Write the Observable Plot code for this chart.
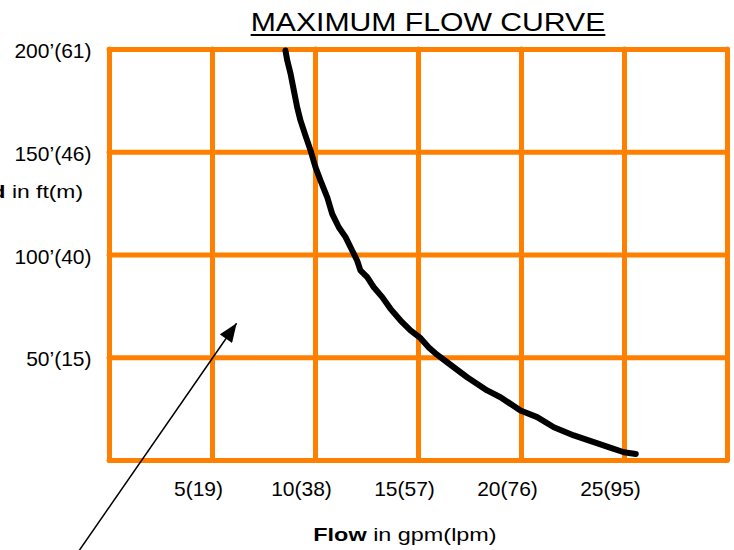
<!DOCTYPE html>
<html>
<head>
<meta charset="utf-8">
<script src="https://cdn.jsdelivr.net/npm/d3@7"></script>
<script src="https://cdn.jsdelivr.net/npm/@observablehq/plot@0.6"></script>
<style>
  html, body { margin: 0; padding: 0; background: #fff; }
  #wrap { position: relative; width: 734px; height: 550px; overflow: hidden;
          font-family: "Liberation Sans", Arial, sans-serif; color: #000; }
  #chart { position: absolute; left: 0; top: 0; }
  .lbl { position: absolute; white-space: nowrap; line-height: 1; }
  #title { left: 427.5px; top: 9px; font-size: 26px;
           transform: translateX(-50%) scaleX(1.16);
           text-decoration: underline; text-decoration-thickness: 2px; text-underline-offset: 3px; }
  #ylab { right: 651px; top: 183px; font-size: 18px; transform-origin: right center; transform: scaleX(1.27); }
  #xlab { left: 405px; top: 526px; font-size: 18px; transform: translateX(-50%) scaleX(1.3); }
</style>
</head>
<body>
<div id="wrap">
  <div id="chart"></div>
  <div class="lbl" id="title">MAXIMUM FLOW CURVE</div>
  <div class="lbl" id="ylab"><b>Head</b> in ft(m)</div>
  <div class="lbl" id="xlab"><b>Flow</b> in gpm(lpm)</div>
</div>
<script>
// Curve: flow (gpm) vs head (ft)
const flow = [8.54, 8.63, 8.79, 8.95, 9.11, 9.27, 9.51, 9.76, 10.0, 10.24, 10.57, 10.81, 11.13, 11.46, 11.78, 12.02, 12.18, 12.51, 12.83, 13.24, 13.64, 14.13, 14.61, 15.10, 15.5, 15.9, 16.39, 17.36, 18.33, 18.98, 19.95, 20.76, 21.57, 22.54, 23.51, 24.48, 24.97, 25.55];
const head = [199.5, 194.6, 188.2, 180.0, 171.9, 165.5, 158.2, 150.9, 142.7, 136.3, 128.1, 120.0, 113.5, 108.7, 102.2, 97.3, 92.5, 89.2, 84.3, 79.5, 73.8, 68.1, 63.3, 59.5, 55.0, 51.5, 47.8, 40.5, 34.1, 30.8, 24.3, 21.1, 16.2, 12.2, 8.9, 5.7, 4.0, 3.2];

// Grid and tick labels
const xGrid = [0, 5, 10, 15, 20, 25, 30];
const yGrid = [0, 50, 100, 150, 200];
const xTicks = [5, 10, 15, 20, 25];
const xTickLabels = ["5(19)", "10(38)", "15(57)", "20(76)", "25(95)"];
const yTicks = [50, 100, 150, 200];
const yTickLabels = ["50’(15)", "100’(40)", "150’(46)", "200’(61)"];

// Pointer arrow (tail -> tip), in data units
const arrowFromX = [-1.9];
const arrowFromY = [-50];
const arrowToX = [6.17];
const arrowToY = [66.8];

const curve = flow.map((f, i) => ({flow: f, head: head[i]}));
const arrows = arrowFromX.map((x1, i) => ({x1, y1: arrowFromY[i], x2: arrowToX[i], y2: arrowToY[i]}));

function filledArrow(color, context) {
  const ns = "http://www.w3.org/2000/svg";
  const doc = (context && context.document) || document;
  const m = doc.createElementNS(ns, "marker");
  m.setAttribute("viewBox", "-10 -4 10 8");
  m.setAttribute("refX", "0");
  m.setAttribute("refY", "0");
  m.setAttribute("markerWidth", "20");
  m.setAttribute("markerHeight", "15");
  m.setAttribute("markerUnits", "userSpaceOnUse");
  m.setAttribute("orient", "auto");
  m.setAttribute("fill", color);
  m.setAttribute("stroke", "none");
  const p = doc.createElementNS(ns, "path");
  p.setAttribute("d", "M0,0L-10,-4L-10,4Z");
  m.appendChild(p);
  return m;
}

const orange = "#FF8000";

const chart = Plot.plot({
  width: 734,
  height: 550,
  marginLeft: 109,
  marginRight: 7,
  marginTop: 49,
  marginBottom: 90,
  style: {fontFamily: "'Liberation Sans', Arial, sans-serif", fontSize: "21px", color: "#000", background: "transparent", overflow: "visible"},
  x: {domain: [0, 30]},
  y: {domain: [0, 200]},
  marks: [
    Plot.ruleX(xGrid, {stroke: orange, strokeWidth: 5, strokeOpacity: 1, strokeLinecap: "round"}),
    Plot.ruleY(yGrid, {stroke: orange, strokeWidth: 5, strokeOpacity: 1, strokeLinecap: "round"}),
    Plot.axisX({ticks: xTicks, tickFormat: (d) => xTickLabels[xTicks.indexOf(d)], tickSize: 0, tickPadding: 21, dx: -14, fontSize: 21, label: null, fill: "#000"}),
    Plot.axisY({ticks: yTicks, tickFormat: (d) => yTickLabels[yTicks.indexOf(d)], tickSize: 0, tickPadding: 18, dy: 2, fontSize: 21, label: null, fill: "#000"}),
    Plot.line(curve, {x: "flow", y: "head", stroke: "#000", strokeWidth: 6, strokeLinecap: "round", strokeLinejoin: "round"}),
    Plot.link(arrows, {x1: "x1", y1: "y1", x2: "x2", y2: "y2", stroke: "#000", strokeWidth: 1.5, markerEnd: filledArrow})
  ]
});
document.getElementById("chart").appendChild(chart);
</script>
</body>
</html>
